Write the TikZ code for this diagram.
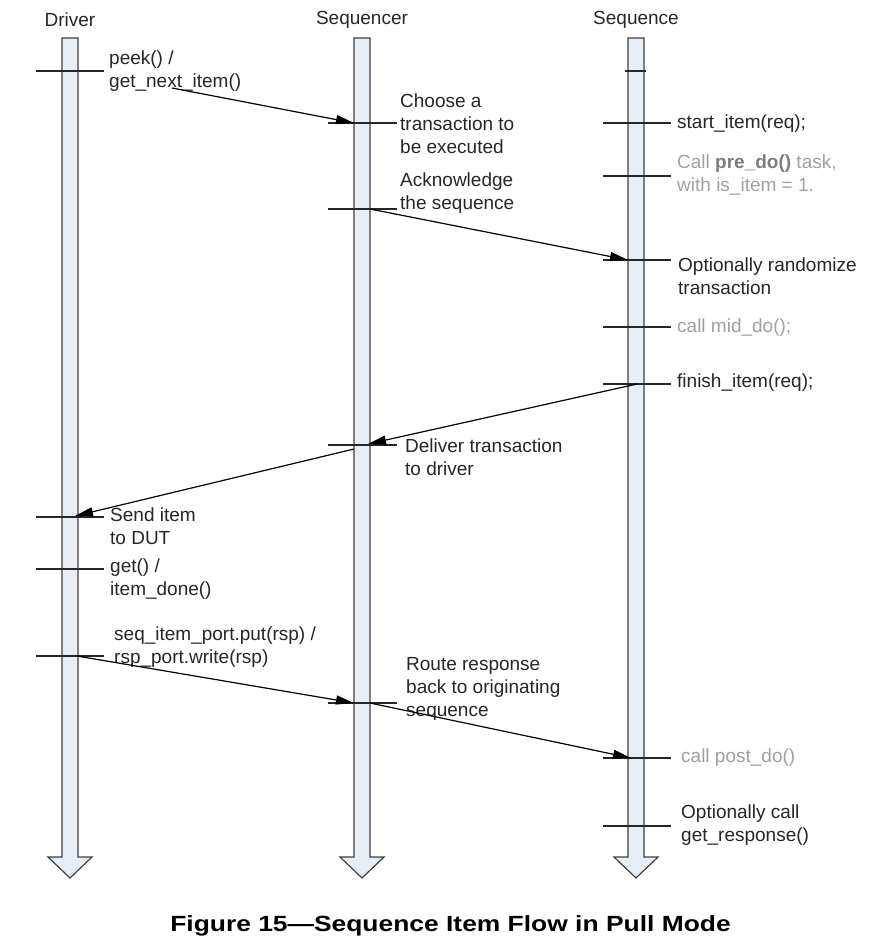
\documentclass[tikz,border=0pt]{standalone}
\usepackage{graphicx}
\usepackage{fontspec}
\setmainfont{Liberation Sans}
\usetikzlibrary{arrows.meta}
\definecolor{lifefill}{RGB}{232,238,248}
\definecolor{lifeedge}{RGB}{64,64,64}
\definecolor{notegray}{RGB}{160,160,160}
\definecolor{notedark}{RGB}{125,125,125}
\newcommand{\lblfont}{\fontsize{19}{23}\selectfont}

\begin{document}
\begin{tikzpicture}[x=1pt,y=-1pt,
  lbl/.style={anchor=west,align=left,inner sep=0pt,font=\lblfont,text=black!85},
  note/.style={lbl,text=notegray},
  tick/.style={draw=black!85,line width=1.2pt},
  msg/.style={-{Triangle[length=18pt,width=9pt]},line width=1.2pt}]
\useasboundingbox (0,0) rectangle (875,948);
% Lifelines with block arrow ends
\foreach \x/\nm in {70/Driver,362/Sequencer,636/Sequence}{
  \filldraw[fill=lifefill,draw=lifeedge,line width=1.2pt]
    (\x-8,38) -- (\x+8,38) -- (\x+8,857) -- (\x+22,857) -- (\x,878)
    -- (\x-22,857) -- (\x-8,857) -- cycle;
  \node[font=\lblfont,text=black!85] (hd\nm) at (\x,20) {\nm};
}
% Ticks on each lifeline
\foreach \y in {71,517,569,656} \draw[tick] (36,\y) -- (104,\y);
\foreach \y in {123,209,445,703} \draw[tick] (328,\y) -- (397,\y);
\draw[tick] (625,71) -- (646,71);
\foreach \y in {123,176,260,327,384,758,826} \draw[tick] (603,\y) -- (671,\y);
% Driver labels
\node[lbl] (peek) at (109,71) {peek() /\\get\_next\_item()};
\node[lbl] (send) at (110,526) {Send item\\to DUT};
\node[lbl] (getdone) at (110,579) {get() /\\item\_done()};
\node[lbl] (put) at (114,647) {seq\_item\_port.put(rsp) /\\rsp\_port.write(rsp)};
% Sequencer labels
\node[lbl] (choose) at (400,123.5) {Choose a\\transaction to\\be executed};
\node[lbl] (ack) at (400,193) {Acknowledge\\the sequence};
\node[lbl] (deliver) at (405,457) {Deliver transaction\\to driver};
\node[lbl] (route) at (406,689) {Route response\\back to originating\\sequence};
% Sequence labels
\node[lbl] (start) at (677,124) {start\_item(req);};
\node[note] (predo) at (677,175) {Call \textcolor{notedark}{\textbf{pre\_do()}} task,\\with is\_item = 1.};
\node[lbl] (rand) at (678,276) {Optionally randomize\\transaction};
\node[note] (middo) at (677,328) {call mid\_do();};
\node[lbl] (finish) at (677,383) {finish\_item(req);};
\node[note] (postdo) at (681,758) {call post\_do()};
\node[lbl] (getrsp) at (681,825) {Optionally call\\get\_response()};
% Message arrows
\coordinate (drvPeek) at (172,88);
\coordinate (sqrChoose) at (354,123);
\coordinate (sqrAck) at (370,209);
\coordinate (seqRand) at (628,260);
\coordinate (seqFinish) at (637,384);
\coordinate (sqrDeliver) at (368,444);
\coordinate (sqrOut) at (354,449);
\coordinate (drvSend) at (75,516);
\coordinate (drvPut) at (77,656);
\coordinate (sqrRoute) at (354,703);
\coordinate (sqrFwd) at (370,703);
\coordinate (seqPost) at (631,758);
\draw[msg] (drvPeek) -- (sqrChoose);
\draw[msg] (sqrAck) -- (seqRand);
\draw[msg] (seqFinish) -- (sqrDeliver);
\draw[msg] (sqrOut) -- (drvSend);
\draw[msg] (drvPut) -- (sqrRoute);
\draw[msg] (sqrFwd) -- (seqPost);
% Caption
\node[font=\bfseries\fontsize{22}{26}\selectfont] (title) at (450.5,926) {\scalebox{1.2}[1]{Figure 15—Sequence Item Flow in Pull Mode}};
\end{tikzpicture}
\end{document}
